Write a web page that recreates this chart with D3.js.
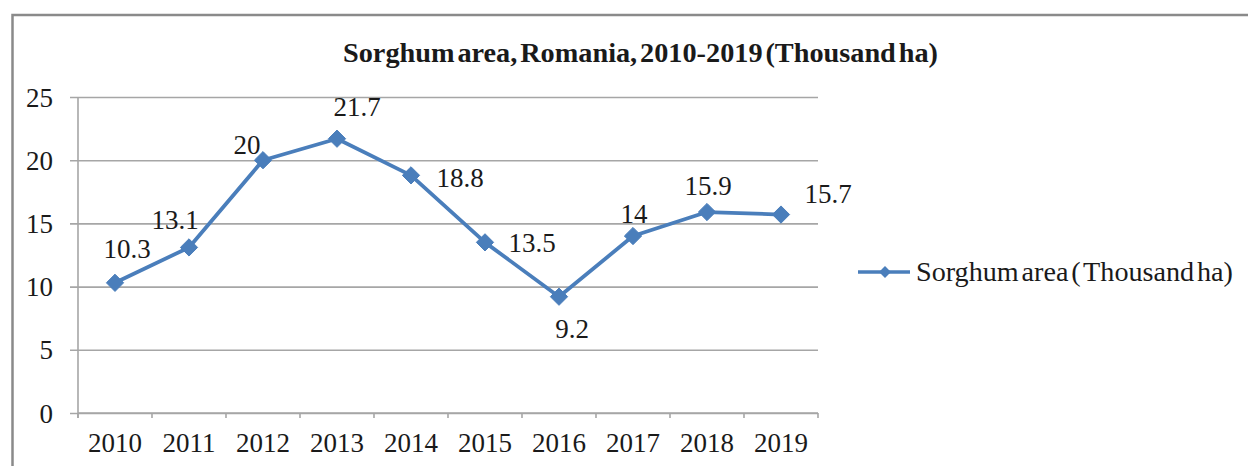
<!DOCTYPE html>
<html>
<head>
<meta charset="utf-8">
<script src="https://cdn.jsdelivr.net/npm/d3@7"></script>
<style>
  html, body { margin: 0; padding: 0; background: #fff; }
  svg { display: block; }
  text { font-family: "Liberation Serif", "Times New Roman", serif; fill: #1a1a1a; }
</style>
</head>
<body>
<svg id="chart" width="1248" height="466"></svg>
<script>
// Sorghum area in Romania, thousand hectares
const years = ["2010", "2011", "2012", "2013", "2014", "2015", "2016", "2017", "2018", "2019"];
const areaValues = [10.3, 13.1, 20, 21.7, 18.8, 13.5, 9.2, 14, 15.9, 15.7];
const yTicks = [0, 5, 10, 15, 20, 25];
const chartTitle = "Sorghum area, Romania, 2010-2019 (Thousand ha)";
const seriesName = "Sorghum area ( Thousand ha)";

// Label placement around each point (dx, dy from the marker centre)
const labelOffsets = [
  [12, -34], [-14, -28], [-16, -15], [20, -32],
  [49, 2], [47, 0], [13, 32], [1, -22], [1, -26], [47, -21]
];

const blue = "#4a7ebb";
const fontSize = 27;
const svg = d3.select("#chart");

// Outer frame
svg.append("rect")
  .attr("x", 12.5).attr("y", 15)
  .attr("width", 1260).attr("height", 480)
  .attr("fill", "none").attr("stroke", "#8a8a8a").attr("stroke-width", 2.5);

const plot = { left: 78, right: 818, top: 97, bottom: 413 };

const x = d3.scaleBand().domain(years).range([plot.left, plot.right]);
const y = d3.scaleLinear().domain([0, 25]).range([plot.bottom, plot.top]);

// Title
svg.append("text")
  .attr("x", 343).attr("y", 62)
  .attr("font-size", fontSize).attr("font-weight", "bold")
  .attr("word-spacing", -4)
  .attr("textLength", 595).attr("lengthAdjust", "spacingAndGlyphs")
  .text(chartTitle);

// Horizontal gridlines with short ticks left of the axis
const yAxis = d3.axisLeft(y).tickValues(yTicks)
  .tickSize(plot.right - plot.left + 8).tickSizeOuter(0)
  .tickFormat(d3.format("d")).tickPadding(17);
const gy = svg.append("g")
  .attr("transform", `translate(${plot.right},0)`)
  .call(yAxis);
gy.select(".domain").remove();
gy.selectAll(".tick line")
  .attr("stroke", "#a6a6a6").attr("stroke-width", 1.6);
gy.selectAll(".tick text")
  .attr("font-family", null)
  .attr("font-size", fontSize).attr("dy", "0.34em");
gy.attr("font-family", null).attr("font-size", null);

// Vertical axis line
svg.append("line")
  .attr("x1", plot.left).attr("x2", plot.left)
  .attr("y1", plot.top).attr("y2", plot.bottom + 5)
  .attr("stroke", "#a6a6a6").attr("stroke-width", 1.6);

// Category axis with ticks at band boundaries
const gx = svg.append("g").attr("transform", `translate(0,${plot.bottom})`);
gx.append("line")
  .attr("x1", plot.left).attr("x2", plot.right)
  .attr("stroke", "#a6a6a6").attr("stroke-width", 1.6);
gx.selectAll("line.tk")
  .data(years.concat([null]))
  .join("line").attr("class", "tk")
  .attr("x1", (d, i) => plot.left + i * x.bandwidth())
  .attr("x2", (d, i) => plot.left + i * x.bandwidth())
  .attr("y1", 0).attr("y2", 5)
  .attr("stroke", "#a6a6a6").attr("stroke-width", 1.6);
gx.selectAll("text")
  .data(years)
  .join("text")
  .attr("x", d => x(d) + x.bandwidth() / 2)
  .attr("y", 39)
  .attr("text-anchor", "middle")
  .attr("font-size", fontSize)
  .text(d => d);

const points = years.map((yr, i) => ({ year: yr, value: areaValues[i], off: labelOffsets[i] }));
const cx = d => x(d.year) + x.bandwidth() / 2;

// Series line
svg.append("path")
  .datum(points)
  .attr("fill", "none")
  .attr("stroke", blue).attr("stroke-width", 3.8)
  .attr("stroke-linejoin", "round")
  .attr("d", d3.line().x(cx).y(d => y(d.value)));

// Diamond markers
const diamond = d3.symbol().type(d3.symbolDiamond2).size(190);
svg.selectAll("path.marker")
  .data(points)
  .join("path").attr("class", "marker")
  .attr("transform", d => `translate(${cx(d)},${y(d.value)})`)
  .attr("d", diamond)
  .attr("fill", blue).attr("stroke", blue).attr("stroke-width", 1);

// Value labels
svg.selectAll("text.val")
  .data(points)
  .join("text").attr("class", "val")
  .attr("x", d => cx(d) + d.off[0])
  .attr("y", d => y(d.value) + d.off[1])
  .attr("dy", "0.34em")
  .attr("text-anchor", "middle")
  .attr("font-size", fontSize)
  .text(d => String(d.value));

// Legend
const lg = svg.append("g").attr("transform", "translate(858,272)");
lg.append("line").attr("x1", 0).attr("x2", 52)
  .attr("stroke", blue).attr("stroke-width", 3.5);
lg.append("path")
  .attr("transform", "translate(27,0)")
  .attr("d", d3.symbol().type(d3.symbolDiamond2).size(90))
  .attr("fill", blue);
lg.append("text")
  .attr("x", 58).attr("y", 0).attr("dy", "0.34em")
  .attr("font-size", fontSize).attr("word-spacing", -4)
  .attr("textLength", 317).attr("lengthAdjust", "spacingAndGlyphs")
  .text(seriesName);
</script>
</body>
</html>
